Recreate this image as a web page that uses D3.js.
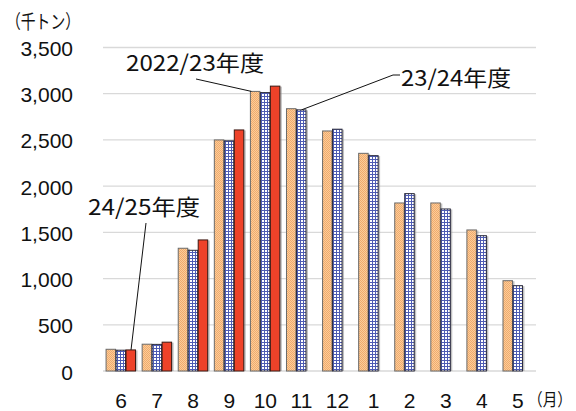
<!DOCTYPE html>
<html>
<head>
<meta charset="utf-8">
<script src="https://cdn.jsdelivr.net/npm/d3@7/dist/d3.min.js"></script>
<style>
  html, body { margin: 0; padding: 0; background: #fff; }
  svg { display: block; }
</style>
</head>
<body>
<svg id="chart" width="576" height="411"></svg>
<script>
// Monthly volumes (thousand tonnes), June through May
const months = ["6", "7", "8", "9", "10", "11", "12", "1", "2", "3", "4", "5"];
const seriesNames = ["2022/23年度", "23/24年度", "24/25年度"];
const fy2022 = [235, 290, 1328, 2500, 3025, 2838, 2597, 2355, 1818, 1818, 1526, 977];
const fy2023 = [225, 288, 1306, 2490, 3012, 2825, 2616, 2330, 1919, 1753, 1464, 923];
const fy2024 = [228, 312, 1418, 2608, 3082, null, null, null, null, null, null, null];
const yTicks = [0, 500, 1000, 1500, 2000, 2500, 3000, 3500];

const seriesValues = [fy2022, fy2023, fy2024];

const svg = d3.select("#chart");
const plot = { left: 103, right: 536, top: 47.5, bottom: 371 };

const x = d3.scaleBand().domain(months).range([plot.left, plot.right]).paddingInner(0).paddingOuter(0);
const groupW = x.bandwidth() * 0.83;
const x1 = d3.scaleBand().domain(d3.range(3)).range([0, groupW]).padding(0);
const y = d3.scaleLinear().domain([0, 3500]).range([plot.bottom, plot.top]);

// fill patterns
const defs = svg.append("defs");
const pOr = defs.append("pattern").attr("id", "pOrange").attr("patternUnits", "userSpaceOnUse")
  .attr("width", 2).attr("height", 2);
pOr.append("rect").attr("width", 2).attr("height", 2).attr("fill", "#FCCD98");
pOr.append("rect").attr("width", 1).attr("height", 1).attr("fill", "#F0AA6E");
pOr.append("rect").attr("x", 1).attr("y", 1).attr("width", 1).attr("height", 1).attr("fill", "#F0AA6E");

const pBl = defs.append("pattern").attr("id", "pBlue").attr("patternUnits", "userSpaceOnUse")
  .attr("width", 3).attr("height", 3);
pBl.append("rect").attr("width", 3).attr("height", 3).attr("fill", "#ffffff");
pBl.append("rect").attr("width", 3).attr("height", 1).attr("fill", "#4E5CB4");
pBl.append("rect").attr("width", 1).attr("height", 3).attr("fill", "#4E5CB4");

const fills = ["url(#pOrange)", "url(#pBlue)", "#EE4229"];
const strokes = ["#6b6b6b", "#2a2a3a", "#3a1a14"];

// gridlines
svg.append("g").selectAll("line").data(yTicks).join("line")
  .attr("x1", plot.left).attr("x2", plot.right)
  .attr("y1", d => y(d)).attr("y2", d => y(d))
  .attr("stroke", "#d9d9d9").attr("stroke-width", 1.3);

// y tick labels
svg.append("g").selectAll("text").data(yTicks).join("text")
  .attr("x", 73).attr("y", d => y(d) + 1)
  .attr("text-anchor", "end").attr("dominant-baseline", "central")
  .attr("font-family", "'Liberation Sans', Arial, sans-serif").attr("font-size", 21)
  .attr("fill", "#111")
  .text(d => d3.format(",")(d));

// bars
const barData = [];
seriesValues.forEach((vals, si) => {
  vals.forEach((v, i) => {
    if (v != null) barData.push({ s: si, m: months[i], v });
  });
});
const bx = d => x(d.m) + (x.bandwidth() - groupW) / 2 + x1(d.s);

const gBars = svg.append("g");
// soft shadow to the right
gBars.selectAll("rect.sh").data(barData).join("rect").attr("class", "sh")
  .attr("x", d => bx(d) + 1.5).attr("y", d => y(d.v) + 0.5)
  .attr("width", x1.bandwidth()).attr("height", d => y(0) - y(d.v) - 0.5)
  .attr("fill", "#8c8c8c").attr("opacity", 0.55);
gBars.selectAll("rect.bar").data(barData).join("rect").attr("class", "bar")
  .attr("x", d => bx(d)).attr("y", d => y(d.v))
  .attr("width", x1.bandwidth() - 0.5).attr("height", d => y(0) - y(d.v))
  .attr("fill", d => fills[d.s]).attr("stroke", d => strokes[d.s]).attr("stroke-width", 1);

// x labels
svg.append("g").selectAll("text").data(months).join("text")
  .attr("x", d => x(d) + x.bandwidth() / 2).attr("y", 400)
  .attr("text-anchor", "middle").attr("dominant-baseline", "central")
  .attr("font-family", "'Liberation Sans', Arial, sans-serif").attr("font-size", 21)
  .attr("fill", "#111")
  .text(d => d);

const jp = "'Noto Sans CJK JP', sans-serif";
svg.append("text").attr("transform", "translate(528,399) scale(1,1.15)")
  .attr("dominant-baseline", "central")
  .attr("font-family", jp).attr("font-size", 15).attr("fill", "#111")
  .attr("textLength", 44).attr("lengthAdjust", "spacingAndGlyphs").text("（月）");
svg.append("text").attr("x", 6).attr("y", 20).attr("dominant-baseline", "central")
  .attr("font-family", jp).attr("font-size", 19).attr("fill", "#111")
  .attr("textLength", 74).attr("lengthAdjust", "spacingAndGlyphs").text("（千トン）");

// series callouts with leader lines
const callouts = [
  { s: 0, m: "10", at: "left", pts: [[196, 79]], tx: 126, ty: 61, tw: 138 },
  { s: 1, m: "11", at: "mid", pts: [[393, 75], [400, 75]], tx: 401, ty: 76, tw: 110 },
  { s: 2, m: "6", at: "mid", pts: [[146, 223]], tx: 88, ty: 205, tw: 112 }
];
const gC = svg.append("g");
callouts.forEach(c => {
  const d = { s: c.s, m: c.m, v: seriesValues[c.s][months.indexOf(c.m)] };
  const x0 = c.at === "left" ? bx(d) + 1 : bx(d) + x1.bandwidth() / 2;
  const pts = [[x0, y(d.v)]].concat(c.pts);
  gC.append("path").attr("d", d3.line()(pts))
    .attr("fill", "none").attr("stroke", "#111").attr("stroke-width", 1);
  gC.append("text").attr("x", c.tx).attr("y", c.ty).attr("dominant-baseline", "central")
    .attr("font-family", jp).attr("font-size", 22).attr("fill", "#111")
    .attr("textLength", c.tw).attr("lengthAdjust", "spacingAndGlyphs")
    .text(seriesNames[c.s]);
});
</script>
</body>
</html>
